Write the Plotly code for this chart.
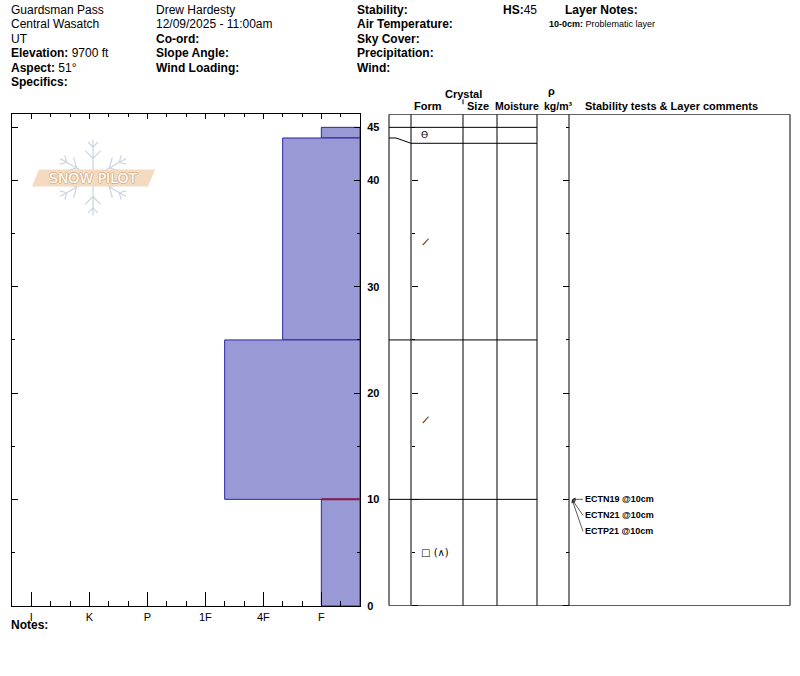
import math
import plotly.graph_objects as go

# the captured picture is compressed vertically by this factor; compensate
VK = 0.9885
W = 800
H = 684


def px(x):
    return x / W


def py(y):
    return 1 - (y / VK) / H


TXT_PAD = 2  # annotation inner padding for left-anchored text

# ---------------- data ----------------
layer_tops = [45, 44, 25, 10]
layer_bottoms = [44, 25, 10, 0]
layer_hardness = ["F", "4F-", "1F-", "F"]
layer_forms = ["Ө", "/", "/", "□ (∧)"]
hardness_labels = ["F", "4F", "1F", "P", "K", "I"]
depth_ticks = [0, 10, 20, 30, 40, 45]
snow_height = 45
test_names = ["ECTN19 @10cm", "ECTN21 @10cm", "ECTP21 @10cm"]
test_depths = [10, 10, 10]
problem_top = 10
problem_bottom = 0

header_col1 = ["Guardsman Pass", "Central Wasatch", "UT",
               "<b>Elevation:</b> 9700 ft", "<b>Aspect:</b> 51°", "<b>Specifics:</b>"]
header_col2 = ["Drew Hardesty", "12/09/2025 - 11:00am", "<b>Co-ord:</b>",
               "<b>Slope Angle:</b>", "<b>Wind Loading:</b>"]
header_col3 = ["<b>Stability:</b>", "<b>Air Temperature:</b>", "<b>Sky Cover:</b>",
               "<b>Precipitation:</b>", "<b>Wind:</b>"]
layer_note = "<b>10-0cm:</b> Problematic layer"

# ---------------- scales ----------------
hardness_pos = {lab: 2 + 3 * i for i, lab in enumerate(hardness_labels)}


def hcode(s):
    base = s.rstrip("+-")
    v = hardness_pos[base]
    if s.endswith("+"):
        v += 1
    elif s.endswith("-"):
        v -= 1
    return v


x_max = hardness_pos["I"] + 1
PX_PER_CM = 10.6
Y_BOTTOM, Y_TOP = 604, 114
depth_top = (Y_BOTTOM - Y_TOP) / PX_PER_CM

FONT = "Liberation Sans, Arial, sans-serif"
BLACK = "black"

hx = [hcode(h) for h in layer_hardness]
mids = [(t + b) / 2 for t, b in zip(layer_tops, layer_bottoms)]
thick = [t - b for t, b in zip(layer_tops, layer_bottoms)]

fig = go.Figure()
fig.add_trace(go.Bar(
    orientation="h", x=hx, y=mids, width=thick, base=0,
    marker=dict(color="rgb(153,153,214)", line=dict(color="rgb(40,40,160)", width=1)),
    hoverinfo="skip", showlegend=False, xaxis="x", yaxis="y"))
# helper invisible traces so overlay axes render
for ya, xa in [("y", "x2"), ("y2", "x"), ("y3", "x")]:
    fig.add_trace(go.Scatter(x=[1], y=[1], mode="markers", marker=dict(opacity=0),
                             hoverinfo="skip", showlegend=False, xaxis=xa, yaxis=ya))

shapes = []
annotations = []


def pline(x0, y0, x1, y1, color=BLACK, width=1, layer="above"):
    shapes.append(dict(type="line", xref="paper", yref="paper",
                       x0=px(x0), y0=py(y0), x1=px(x1), y1=py(y1),
                       line=dict(color=color, width=width), layer=layer))


def text(x, y, t, size=12, anchor="left", yref="paper", family=FONT, **kw):
    xx = x - TXT_PAD if anchor == "left" else x
    annotations.append(dict(xref="paper", yref=yref, x=px(xx),
                            y=py(y) if yref == "paper" else y, text=t,
                            showarrow=False, xanchor=anchor, yanchor="middle",
                            font=dict(family=family, size=size, color=BLACK), **kw))


# ---------- logo (snowflake + banner) ----------
cx, cy, R = 93, 177, 38
FL = "rgb(202,212,224)"
for k in range(6):
    a = math.radians(90 + 60 * k)
    ex, ey = cx + R * math.cos(a), cy - R * math.sin(a)
    pline(cx + 6 * math.cos(a), cy - 6 * math.sin(a), ex, ey, FL, 1.2, "below")
    for f, L in [(0.5, 11), (0.8, 7)]:
        bx, by = cx + f * R * math.cos(a), cy - f * R * math.sin(a)
        for s in (1, -1):
            b = a + s * math.radians(45)
            pline(bx, by, bx + L * math.cos(b), by - L * math.sin(b), FL, 1.2, "below")
banner = [(39, 169), (155, 169), (148, 186), (32, 186)]
path = "M " + " L ".join(f"{px(x)},{py(y)}" for x, y in banner) + " Z"
shapes.append(dict(type="path", xref="paper", yref="paper", path=path,
                   fillcolor="rgb(243,218,192)", line=dict(width=0), layer="below"))
annotations.append(dict(xref="paper", yref="paper", x=px(93), y=py(177.5), text="SNOW PILOT",
                        showarrow=False, xanchor="center", yanchor="middle",
                        font=dict(family="DejaVu Sans", size=14, color="white",
                                  shadow="1px 0 0 rgb(215,180,145), -1px 0 0 rgb(215,180,145), 0 1px 0 rgb(215,180,145), 0 -1px 0 rgb(215,180,145)")))

# ---------- problematic layer marker ----------
prob_idx = layer_bottoms.index(problem_bottom)
shapes.append(dict(type="line", xref="x", yref="y", x0=0, x1=hx[prob_idx],
                   y0=problem_top, y1=problem_top,
                   line=dict(color="rgb(140,25,70)", width=2), layer="above"))

# ---------- right-hand table ----------
TL, TF, TS, TM, TD, TC, TR = 389, 411, 463, 497, 537, 569, 790


def tline(x0, x1, y0, y1):
    shapes.append(dict(type="line", xref="paper", yref="y", x0=px(x0), x1=px(x1), y0=y0, y1=y1,
                       line=dict(color=BLACK, width=1)))


for (x0, y0, x1, y1) in [(TL, depth_top, TR, depth_top), (TL, 0, TR, 0),
                         (TL, 0, TL, depth_top), (TR, 0, TR, depth_top)]:
    tline(x0, x1, y0, y1)
for xv in [TF, TS, TM, TD, TC]:
    tline(xv, xv, 0, depth_top)
tline(TL, TD, snow_height, snow_height)

MIN_ROW = 1.5
disp_top = [layer_tops[0]]
disp_bot = []
for i in range(len(layer_tops)):
    db = min(layer_bottoms[i], disp_top[i] - MIN_ROW)
    if layer_bottoms[i] == 0:
        db = 0
    disp_bot.append(db)
    if i + 1 < len(layer_tops):
        disp_top.append(db)
for i in range(len(layer_tops) - 1):
    real, disp = layer_bottoms[i], disp_bot[i]
    shapes.append(dict(type="path", xref="paper", yref="y",
                       path=f"M {px(TL)},{real} L {px(TL + 7)},{real} L {px(TF)},{disp}",
                       line=dict(color=BLACK, width=1)))
    tline(TF, TD, disp, disp)

for i, f in enumerate(layer_forms):
    ym = (disp_top[i] + disp_bot[i]) / 2
    ang = 25 if f == "/" else 0
    text(421, ym, f, size=10 if f != "Ө" else 9, yref="y", family="DejaVu Sans", textangle=ang)

# stability tests
for i, (t, d) in enumerate(zip(test_names, test_depths)):
    annotations.append(dict(xref="paper", yref="y", x=px(572), y=d, text=f"<b>{t}</b>",
                            showarrow=True, ax=11, ay=16 * i, xanchor="left", yanchor="middle",
                            arrowhead=2, arrowsize=0.9, arrowwidth=0.8, arrowcolor="#333",
                            standoff=0, font=dict(family=FONT, size=9, color=BLACK)))

# column headers
for txt, x, y, anc in [("Crystal", 464, 94, "center"), ("Form", 428, 106, "center"),
                       ("Size", 478, 106, "center"), ("Moisture", 517, 106, "center"),
                       ("ρ", 551, 91, "center"), ("kg/m³", 558, 106, "center"),
                       ("Stability tests & Layer comments", 585, 106, "left")]:
    text(x, y, f"<b>{txt}</b>", size=11 if txt not in ("Moisture", "kg/m³") else 10.5, anchor=anc)
pline(463, 99, 463, 104)


def hrow(i):
    return 10 + 14.35 * i


for col, xx in [(header_col1, 11), (header_col2, 156), (header_col3, 357)]:
    for i, t in enumerate(col):
        text(xx, hrow(i), t)
text(503, hrow(0), f"<b>HS:</b>{snow_height}")
text(565, hrow(0), "<b>Layer Notes:</b>")
text(549, hrow(1), layer_note, size=9)
text(11, 623, "<b>Notes:</b>")

tickvals_h = [hardness_pos[l] for l in hardness_labels]
common_x = dict(domain=[px(12), px(360)], range=[x_max, 0], showgrid=False, zeroline=False,
                fixedrange=True, tickcolor=BLACK, tickwidth=1)
ydom = [py(Y_BOTTOM), py(Y_TOP)]
common_y = dict(domain=ydom, range=[0, depth_top], showgrid=False, zeroline=False,
                fixedrange=True, tickcolor=BLACK, tickwidth=1)

fig.update_layout(
    width=W, height=H, margin=dict(l=0, r=0, t=0, b=0), autosize=False,
    paper_bgcolor="white", plot_bgcolor="rgba(0,0,0,0)",
    showlegend=False, barmode="overlay",
    xaxis=dict(**common_x, anchor="y", side="bottom", showline=True, linecolor=BLACK, linewidth=1,
               mirror=True, ticks="inside", ticklen=14, tickvals=tickvals_h, ticktext=hardness_labels,
               ticklabelstandoff=1,
               tickfont=dict(family=FONT, size=11, color=BLACK),
               minor=dict(tickmode="linear", tick0=0, dtick=1, ticks="inside", ticklen=5,
                          tickcolor=BLACK, tickwidth=1)),
    xaxis2=dict(**common_x, anchor="y", overlaying="x", side="top", ticks="inside", ticklen=5,
                tickvals=tickvals_h, showticklabels=False, showline=False,
                minor=dict(tickmode="linear", tick0=0, dtick=1, ticks="inside", ticklen=3,
                           tickcolor=BLACK, tickwidth=1)),
    yaxis=dict(**common_y, anchor="x", side="right", showline=True, linecolor=BLACK, linewidth=1,
               mirror="ticks", ticks="inside", ticklen=6, tickvals=depth_ticks,
               ticklabelstandoff=4,
               tickfont=dict(family=FONT, size=11, color=BLACK, weight="bold"),
               minor=dict(tickmode="linear", tick0=0, dtick=5, ticks="inside", ticklen=3,
                          tickcolor=BLACK, tickwidth=1)),
    yaxis2=dict(**common_y, anchor="free", overlaying="y", position=px(TF), side="right",
                ticks="outside", ticklen=6, tickvals=depth_ticks[:-1], showticklabels=False,
                showline=False,
                minor=dict(tickmode="linear", tick0=0, dtick=5, ticks="outside", ticklen=3,
                           tickcolor=BLACK, tickwidth=1)),
    yaxis3=dict(**common_y, anchor="free", overlaying="y", position=px(TC), side="left",
                ticks="outside", ticklen=6, tickvals=depth_ticks[:-1], showticklabels=False,
                showline=False,
                minor=dict(tickmode="linear", tick0=0, dtick=5, ticks="outside", ticklen=3,
                           tickcolor=BLACK, tickwidth=1)),
    shapes=shapes, annotations=annotations,
)

# remove the default page margin so the figure starts at the window's corner
fig.write_html("out.html", config={"displayModeBar": False, "staticPlot": True},
               post_script="document.body.style.margin='0px';document.body.style.overflow='hidden';")
